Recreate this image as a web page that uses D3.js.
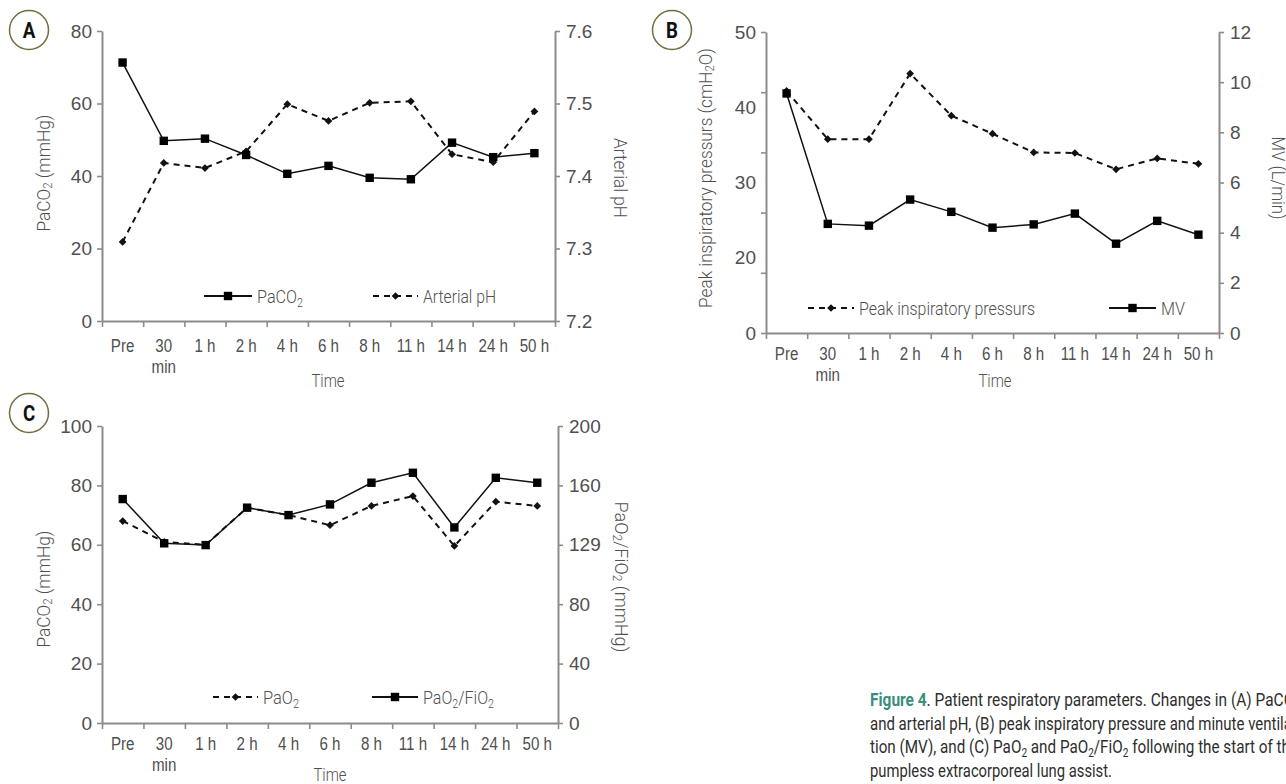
<!DOCTYPE html>
<html>
<head>
<meta charset="utf-8">
<script src="https://cdnjs.cloudflare.com/ajax/libs/d3/7.8.5/d3.min.js"></script>
<style>
  body { margin: 0; background: #fff; }
  svg { display: block; font-family: Roboto, "Liberation Sans", sans-serif; font-weight: 300; }
</style>
</head>
<body>
<svg id="fig" width="1286" height="784"></svg>
<script>
// time points (shared by all panels)
const timeLabels = ["Pre", "30\nmin", "1 h", "2 h", "4 h", "6 h", "8 h", "11 h", "14 h", "24 h", "50 h"];

// panel A
const paco2A = [71.3, 49.7, 50.3, 45.8, 40.6, 42.8, 39.5, 39.1, 49.2, 45.2, 46.3];
const phA = [7.309, 7.418, 7.411, 7.434, 7.499, 7.476, 7.501, 7.503, 7.430, 7.419, 7.489];
const ticksLeftA = [0, 20, 40, 60, 80];
const ticksRightA = [7.2, 7.3, 7.4, 7.5, 7.6];

// panel B
const peakB = [40.2, 32.2, 32.2, 43.1, 36.1, 33.1, 30.0, 29.9, 27.2, 29.0, 28.1];
const mvB = [9.55, 4.35, 4.28, 5.32, 4.83, 4.2, 4.33, 4.76, 3.56, 4.47, 3.92];
const ticksLeftB = [0, 10, 20, 30, 40, 50];
const labelsLeftB = ["50", "40", "30", "20", "0"];   // printed evenly, not on the ticks
const ticksRightB = [0, 2, 4, 6, 8, 10, 12];

// panel C
const pao2C = [68.0, 61.0, 60.0, 72.5, 70.0, 66.6, 73.1, 76.4, 59.6, 74.5, 73.1];
const ratioC = [150.8, 121.0, 119.8, 145.0, 140.0, 147.2, 161.8, 168.5, 131.7, 165.1, 161.8];
const ticksLeftC = [0, 20, 40, 60, 80, 100];
const ticksRightC = [0, 40, 80, 120, 160, 200];
const labelsRightC = ["0", "40", "80", "129", "160", "200"];

const svg = d3.select("#fig");
const AX = "#8c8c8c", TXT = "#505050";

// text with "_x" subscripts
function rich(sel, str, fs) {
  let shift = 0;
  str.split(/(_\w)/).filter(p => p).forEach(p => {
    const t = sel.append("tspan");
    if (p[0] === "_") {
      t.attr("font-size", fs * 0.66).attr("dy", fs * 0.22 - shift).text(p.slice(1));
      shift = fs * 0.22;
    } else {
      t.attr("dy", -shift).text(p);
      shift = 0;
    }
  });
}

// squeeze text to a width (the original uses a condensed face)
function fit(sel, w) {
  sel.attr("textLength", w).attr("lengthAdjust", "spacingAndGlyphs");
}
function squeeze(sel, f) {
  sel.each(function() {
    const w = this.getComputedTextLength();
    d3.select(this).attr("textLength", w * f).attr("lengthAdjust", "spacingAndGlyphs");
  });
}

function styleAxis(g) {
  g.select(".domain").attr("stroke", AX).attr("stroke-width", 2);
  g.selectAll(".tick line").attr("stroke", AX).attr("stroke-width", 1.6);
  g.selectAll(".tick text").attr("fill", TXT).attr("font-size", 19)
    .attr("font-family", null);
}

function diamond(g, x, y) {
  g.append("path")
    .attr("d", d3.symbol(d3.symbolSquare, 30)())
    .attr("transform", `translate(${x},${y}) rotate(45)`)
    .attr("fill", "#111");
}
function square(g, x, y) {
  g.append("rect").attr("x", x - 4.2).attr("y", y - 4.2)
    .attr("width", 8.4).attr("height", 8.4).attr("fill", "#000");
}

function panel(cfg) {
  const g = svg.append("g").attr("transform", `translate(${cfg.x},${cfg.y})`);
  const W = cfg.w, H = cfg.h;
  const xb = d3.scaleBand().domain(timeLabels).range([0, W]);
  const xe = d3.scaleLinear().domain([0, timeLabels.length]).range([0, W]);
  const yl = d3.scaleLinear().domain(cfg.leftDomain).range([H, 0]);
  const yr = d3.scaleLinear().domain(cfg.rightDomain).range([H, 0]);
  const cx = (d, i) => xb(timeLabels[i]) + xb.bandwidth() / 2;

  // bottom axis: ticks on the band edges, labels in the middle
  g.append("g").attr("transform", `translate(0,${H})`)
    .call(d3.axisBottom(xe).tickValues(d3.range(0, timeLabels.length + 1)).tickFormat("").tickSize(6).tickSizeOuter(0))
    .call(styleAxis);
  const xl = g.append("g").attr("transform", `translate(0,${H})`)
    .call(d3.axisBottom(xb).tickSize(0).tickPadding(cfg.xPad))
    .call(styleAxis);
  xl.select(".domain").remove();
  xl.selectAll(".tick text").attr("font-size", 18).each(function(d) {
    const t = d3.select(this).text(null);
    d.split("\n").forEach((s, k) => {
      t.append("tspan").attr("x", 0).attr("dy", k ? "1.2em" : "0.71em").text(s);
    });
  });
  squeeze(xl.selectAll(".tick tspan"), 0.84);

  // left axis
  if (cfg.leftLabels) {
    g.append("g").call(d3.axisLeft(yl).tickValues(cfg.leftTicks).tickFormat("").tickSize(5).tickSizeOuter(0)).call(styleAxis);
    const lp = d3.scalePoint().domain(cfg.leftLabels).range([0, H]);
    const la = g.append("g").call(d3.axisLeft(lp).tickSize(0).tickPadding(10)).call(styleAxis);
    la.select(".domain").remove();
  } else {
    g.append("g").call(d3.axisLeft(yl).tickValues(cfg.leftTicks).tickFormat(d3.format("")).tickSize(5).tickPadding(5).tickSizeOuter(0))
      .call(styleAxis);
  }
  // right axis
  const rf = cfg.rightLabels ? (d, i) => cfg.rightLabels[i] : d3.format("");
  g.append("g").attr("transform", `translate(${W},0)`)
    .call(d3.axisRight(yr).tickValues(cfg.rightTicks).tickFormat(rf).tickSize(5).tickPadding(6).tickSizeOuter(0))
    .call(styleAxis);

  // series
  cfg.series.forEach(s => {
    const y = s.axis === "left" ? yl : yr;
    const line = d3.line().x(cx).y(d => y(d));
    g.append("path").datum(s.values)
      .attr("fill", "none").attr("stroke", "#111")
      .attr("stroke-width", s.dashed ? 2 : 1.5)
      .attr("stroke-dasharray", s.dashed ? "6,5" : null)
      .attr("d", line);
  });
  cfg.series.forEach(s => {
    const y = s.axis === "left" ? yl : yr;
    s.values.forEach((v, i) => (s.dashed ? diamond : square)(g, cx(v, i), y(v)));
  });

  // legend
  cfg.legend.forEach(l => {
    g.append("line").attr("x1", l.x1 - cfg.x).attr("x2", l.x2 - cfg.x)
      .attr("y1", l.y - cfg.y).attr("y2", l.y - cfg.y)
      .attr("stroke", "#111").attr("stroke-width", l.dashed ? 2 : 1.8)
      .attr("stroke-dasharray", l.dashed ? "6,5" : null);
    const mx = (l.x1 + l.x2) / 2 - cfg.x;
    (l.dashed ? diamond : square)(g, mx, l.y - cfg.y);
    const t = g.append("text").attr("x", l.x2 - cfg.x + 5).attr("y", l.y - cfg.y + 7)
      .attr("font-size", 19).attr("fill", TXT);
    rich(t, l.label, 19);
    fit(t, l.w);
  });

  // axis titles
  cfg.titles.forEach(tt => {
    const t = svg.append("text")
      .attr("transform", `translate(${tt.x},${tt.y}) rotate(${tt.r || 0})`)
      .attr("text-anchor", "middle").attr("dominant-baseline", "central")
      .attr("font-size", 19).attr("fill", TXT);
    rich(t, tt.text, 19);
    fit(t, tt.w);
  });

  // panel letter
  svg.append("circle").attr("cx", cfg.tag.x).attr("cy", cfg.tag.y).attr("r", 19.5)
    .attr("fill", "#fff").attr("stroke", "#726d3e").attr("stroke-width", 1.5);
  svg.append("text").attr("x", cfg.tag.x).attr("y", cfg.tag.y + 7.5)
    .attr("text-anchor", "middle").attr("font-size", 22).attr("font-weight", "bold")
    .attr("fill", "#111").text(cfg.tag.t)
    .call(squeeze, 0.85);
}

panel({
  x: 102, y: 31, w: 453, h: 290, xPad: 18,
  leftDomain: [0, 80], rightDomain: [7.2, 7.6],
  leftTicks: ticksLeftA, rightTicks: ticksRightA,
  series: [
    { values: phA, axis: "right", dashed: true },
    { values: paco2A, axis: "left", dashed: false }
  ],
  legend: [
    { x1: 204, x2: 252, y: 296, label: "PaCO_2", dashed: false, w: 46 },
    { x1: 373, x2: 418, y: 296, label: "Arterial pH", dashed: true, w: 73 }
  ],
  titles: [
    { x: 43, y: 173, r: -90, text: "PaCO_2 (mmHg)", w: 117 },
    { x: 621, y: 178, r: 90, text: "Arterial pH", w: 80 },
    { x: 328, y: 380, text: "Time", w: 33 }
  ],
  tag: { x: 29, y: 30, t: "A" }
});

panel({
  x: 766, y: 32, w: 453, h: 301, xPad: 14,
  leftDomain: [0, 50], rightDomain: [0, 12],
  leftTicks: ticksLeftB, leftLabels: labelsLeftB, rightTicks: ticksRightB,
  series: [
    { values: peakB, axis: "left", dashed: true },
    { values: mvB, axis: "right", dashed: false }
  ],
  legend: [
    { x1: 808, x2: 854, y: 308, label: "Peak inspiratory pressurs", dashed: true, w: 176 },
    { x1: 1109, x2: 1156, y: 308, label: "MV", dashed: false, w: 24 }
  ],
  titles: [
    { x: 705, y: 178, r: -90, text: "Peak inspiratory pressurs (cmH_2O)", w: 260 },
    { x: 1279, y: 178, r: 90, text: "MV (L/min)", w: 83 },
    { x: 995, y: 380, text: "Time", w: 33 }
  ],
  tag: { x: 672, y: 30, t: "B" }
});

panel({
  x: 102, y: 426, w: 456, h: 297, xPad: 14,
  leftDomain: [0, 100], rightDomain: [0, 200],
  leftTicks: ticksLeftC, rightTicks: ticksRightC, rightLabels: labelsRightC,
  series: [
    { values: pao2C, axis: "left", dashed: true },
    { values: ratioC, axis: "right", dashed: false }
  ],
  legend: [
    { x1: 213, x2: 258, y: 697, label: "PaO_2", dashed: true, w: 36 },
    { x1: 372, x2: 418, y: 697, label: "PaO_2/FiO_2", dashed: false, w: 71 }
  ],
  titles: [
    { x: 43, y: 589, r: -90, text: "PaCO_2 (mmHg)", w: 117 },
    { x: 622, y: 577, r: 90, text: "PaO_2/FiO_2 (mmHg)", w: 151 },
    { x: 330, y: 774, text: "Time", w: 33 }
  ],
  tag: { x: 29, y: 413, t: "C" }
});

// caption (justified column running past the right edge)
const captionLines = [
  "_B. Patient respiratory parameters. Changes in (A) PaCO_2",
  "and arterial pH, (B) peak inspiratory pressure and minute ventila-",
  "tion (MV), and (C) PaO_2 and PaO_2/FiO_2 following the start of the",
  "pumpless extracorporeal lung assist."
];
const captionWidths = [430, 426, 428, 242];
const cap = svg.append("g").attr("font-size", 19).attr("font-weight", 400).attr("fill", "#2e2e2e");
captionLines.forEach((ln, i) => {
  const t = cap.append("text").attr("x", 870).attr("y", 706 + i * 23.5);
  if (ln.startsWith("_B")) {
    t.append("tspan").attr("font-weight", "bold").attr("fill", "#3a8f7c").text("Figure 4");
    rich(t, ln.slice(2), 19);
  } else {
    rich(t, ln, 19);
  }
  fit(t, captionWidths[i]);
});
</script>
</body>
</html>
